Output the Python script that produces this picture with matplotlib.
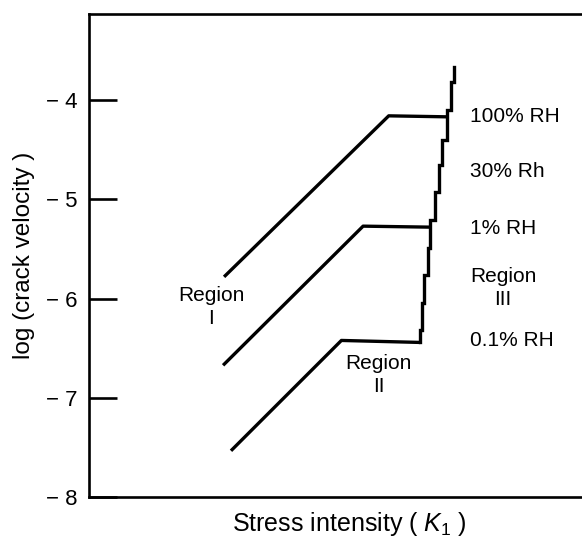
import matplotlib.pyplot as plt

plt.rcParams["font.family"] = ["Liberation Sans", "DejaVu Sans"]
plt.rcParams["mathtext.fontset"] = "custom"
plt.rcParams["mathtext.rm"] = "Liberation Sans"
plt.rcParams["mathtext.it"] = "Liberation Sans:italic"

# --- curves (x in arbitrary K units, y = log velocity) ---
rh100_x = [1.37, 3.04, 3.63]
rh100_y = [-5.78, -4.16, -4.17]

rh1_x = [1.36, 2.78, 3.46]
rh1_y = [-6.67, -5.27, -5.28]

rh01_x = [1.44, 2.56, 3.36]
rh01_y = [-7.53, -6.42, -6.44]

# region III: near-vertical staircase, one x per step, y at step boundaries
r3_x = [3.36, 3.38, 3.40, 3.44, 3.46, 3.51, 3.55, 3.58, 3.63, 3.67, 3.70]
r3_y = [-6.44, -6.31, -6.04, -5.76, -5.49, -5.21, -4.93, -4.65, -4.40,
        -4.10, -3.82, -3.67]

yticks = [-4, -5, -6, -7, -8]
ytick_labels = ["\u2212 4", "\u2212 5", "\u2212 6", "\u2212 7", "\u2212 8"]

rh_labels = ["100% RH", "30% Rh", "1% RH", "0.1% RH"]
rh_label_y = [-4.17, -4.72, -5.29, -6.42]

fig = plt.figure(figsize=(5.82, 5.37), dpi=100)
ax = fig.add_axes([0.1529, 0.0736, 0.8952, 0.9004])

for xs, ys in [(rh100_x, rh100_y), (rh1_x, rh1_y), (rh01_x, rh01_y)]:
    ax.plot(xs, ys, color="black", lw=2.4, solid_capstyle="butt")

# build step path for region III
sx, sy = [], []
for i, xv in enumerate(r3_x):
    sx += [xv, xv]
    sy += [r3_y[i], r3_y[i + 1]]
ax.plot(sx, sy, color="black", lw=2.4, solid_joinstyle="miter")

fs = 15
for lab, yv in zip(rh_labels, rh_label_y):
    ax.text(3.86, yv, lab, fontsize=fs, ha="left", va="center")

ax.text(4.20, -5.89, "Region\nIII", fontsize=fs, ha="center", va="center",
        linespacing=1.25)
ax.text(1.24, -6.08, "Region\nI", fontsize=fs, ha="center", va="center",
        linespacing=1.25)
ax.text(2.94, -6.77, "Region\nII", fontsize=fs, ha="center", va="center",
        linespacing=1.25)

ax.set_xlim(0, 5.284)
ax.set_ylim(-8, -3.135)
ax.set_xticks([])
ax.set_yticks(yticks)
ax.set_yticklabels(ytick_labels, fontsize=16)
ax.tick_params(axis="y", direction="in", length=20, width=1.9, pad=8)

ax.spines["right"].set_visible(False)
for s in ["left", "top", "bottom"]:
    ax.spines[s].set_linewidth(1.9)

ax.set_xlabel("Stress intensity ( $K_1$ )", fontsize=18, labelpad=9)
ax.set_ylabel("log (crack velocity )", fontsize=17.5, labelpad=8)

plt.savefig("out.png", dpi=100)
plt.close()
